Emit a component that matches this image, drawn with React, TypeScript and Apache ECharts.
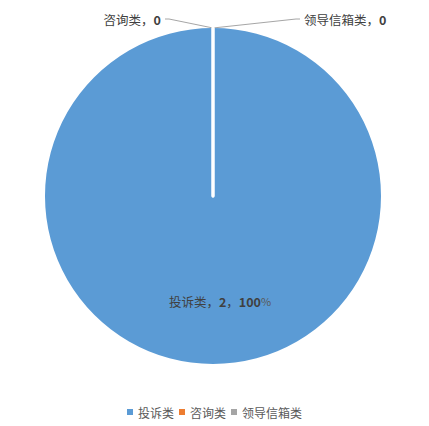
import { useEffect, useRef } from 'react';
import * as echarts from 'echarts';

// 分类与数值
const categories = ['投诉类', '咨询类', '领导信箱类'];
const values = [2, 0, 0];
const colors = ['#5B9BD5', '#ED7D31', '#A5A5A5'];
// 标签放在右侧的分类
const rightSide = ['领导信箱类'];

const FONT = '"Noto Sans CJK SC", "Noto Sans", sans-serif';

export default function App() {
  const box = useRef<HTMLDivElement>(null);

  useEffect(() => {
    document.body.style.margin = '0';
    if (!box.current) return;
    const chart = echarts.init(box.current, undefined, { renderer: 'svg' });
    const total = values.reduce((a, b) => a + b, 0);

    const data = categories.map((name, i) => {
      const isZero = values[i] === 0;
      const pct = total ? Math.round((values[i] / total) * 100) : 0;
      return {
        name,
        value: values[i],
        itemStyle: {
          color: colors[i],
          borderColor: '#fff',
          borderWidth: isZero ? 3 : 0,
        },
        label: isZero
          ? {
              position: 'outside',
              formatter: `{n|${name}，}{b|${values[i]}}`,
            }
          : {
              position: 'inside',
              offset: [7, 18],
              formatter: `{n|${name}，}{b|${values[i]}}{n|，}{b|${pct}}{p|%}`,
            },
      };
    });

    chart.setOption({
      animation: false,
      legend: {
        bottom: 3,
        left: 'center',
        data: categories,
        icon: 'rect',
        itemWidth: 6,
        itemHeight: 6,
        itemGap: 5,
        itemStyle: { borderWidth: 0 },
        textStyle: { color: '#595959', fontSize: 12, fontFamily: FONT },
      },
      series: [
        {
          type: 'pie',
          center: [213, 196],
          radius: 168,
          startAngle: 90,
          clockwise: true,
          minAngle: 0,
          stillShowZeroSum: true,
          avoidLabelOverlap: false,
          data,
          label: {
            color: '#404040',
            fontFamily: FONT,
            rich: {
              n: { fontSize: 12.5, color: '#404040', fontFamily: FONT },
              b: { fontSize: 12.5, fontWeight: 'bold', color: '#404040', fontFamily: FONT },
              p: { fontSize: 11, color: '#595959', fontFamily: FONT },
            },
          },
          labelLine: {
            show: true,
            length: 8,
            length2: 45,
            lineStyle: { color: '#A6A6A6', width: 1 },
          },
          labelLayout: (p: any) => {
            const pts = p.labelLinePoints;
            if (!pts || values[p.dataIndex] !== 0) return {};
            const [x0, y0] = pts[0];
            const right = rightSide.includes(categories[p.dataIndex]);
            const side = right ? 1 : -1;
            const reach = right ? 87 : 48;
            const dy = -9;
            return {
              x: x0 + side * (reach + 4),
              y: y0 + dy,
              align: right ? 'left' : 'right',
              verticalAlign: 'middle',
              labelLinePoints: [
                [x0, y0],
                [x0 + side * (reach - 4), y0 + dy],
                [x0 + side * reach, y0 + dy],
              ],
            };
          },
          emphasis: { disabled: true },
        },
      ],
    });

    return () => chart.dispose();
  }, []);

  return <div ref={box} style={{ width: 429, height: 426 }} />;
}
